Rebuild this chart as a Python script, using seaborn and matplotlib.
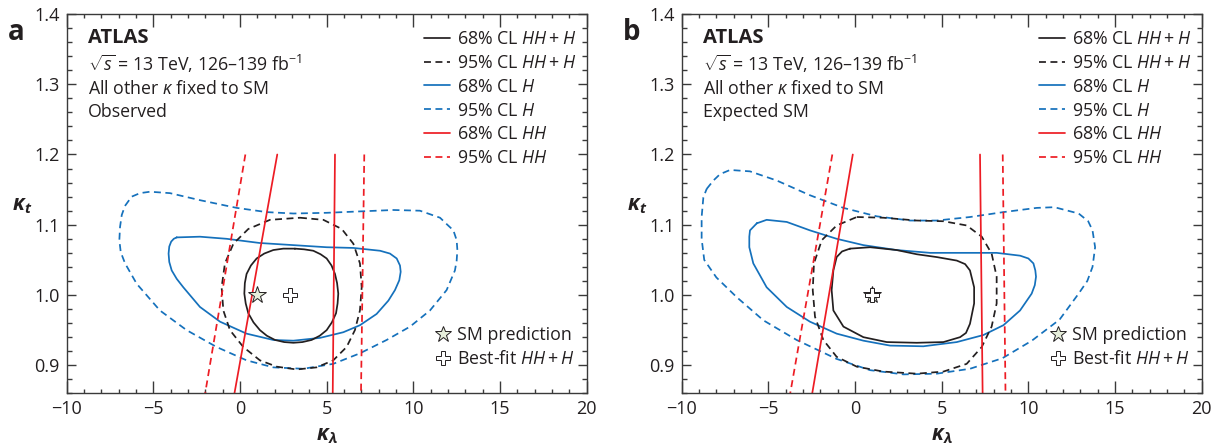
import numpy as np
import pandas as pd
import matplotlib
matplotlib.use("Agg")
import matplotlib.pyplot as plt
from matplotlib.lines import Line2D
import seaborn as sns

BLACK = "#231f20"
BLUE = "#1571bc"
RED = "#ed1c24"
STAR_FILL = "#e6eedb"

# ---- panel a: observed ----
A_HHH68_KL = [3.17, 3.7, 4.23, 4.65, 5.0, 5.28, 5.48, 5.6, 5.67, 5.63, 5.54, 5.3, 5.0, 4.6, 4.13, 3.6, 3.08, 2.55,
              2.02, 1.55, 1.15, 0.78, 0.48, 0.33, 0.25, 0.28, 0.38, 0.63, 0.96, 1.4, 1.92, 2.5]
A_HHH68_KT = [1.066, 1.065, 1.063, 1.058, 1.052, 1.042, 1.030, 1.017, 1.002, 0.988, 0.974, 0.961, 0.950, 0.942, 0.936,
              0.933, 0.932, 0.933, 0.936, 0.942, 0.950, 0.961, 0.974, 0.988, 1.002, 1.017, 1.030, 1.042, 1.052, 1.059,
              1.064, 1.066]
A_HHH95_KL = [3.46, 4.81, 5.87, 6.54, 6.92, 7.02, 6.92, 6.63, 6.15, 5.38, 4.42, 3.27, 2.12, 1.15, 0.19, -0.58, -0.96,
              -1.06, -0.87, -0.38, 0.48, 1.73]
A_HHH95_KT = [1.110, 1.107, 1.094, 1.073, 1.045, 1.011, 0.978, 0.950, 0.926, 0.907, 0.897, 0.894, 0.898, 0.907, 0.926,
              0.950, 0.978, 1.011, 1.045, 1.073, 1.094, 1.107]
A_H68_KL = [-3.65, -2.31, -0.77, 1.15, 3.08, 5.0, 6.54, 8.08, 8.65, 9.04, 9.23, 9.27, 9.19, 8.94, 8.56, 7.88, 6.92,
            5.96, 4.62, 3.08, 1.92, 0.38, -1.15, -2.31, -3.27, -3.65, -3.94, -4.08, -4.12, -4.08, -3.97, -3.82]
A_H68_KT = [1.082, 1.083, 1.080, 1.074, 1.071, 1.068, 1.067, 1.063, 1.059, 1.052, 1.042, 1.033, 1.021, 1.007, 0.992,
            0.973, 0.957, 0.947, 0.939, 0.935, 0.936, 0.945, 0.962, 0.983, 1.011, 1.023, 1.035, 1.047, 1.059, 1.069,
            1.076, 1.080]
A_H95_KL = [-6.63, -6.25, -5.77, -5.19, -4.04, -2.31, -0.19, 1.54, 3.08, 5.0, 6.92, 8.85, 10.38, 11.54, 11.92, 12.31,
            12.50, 12.54, 12.50, 12.40, 11.92, 10.96, 9.81, 8.46, 6.92, 5.38, 3.65, 1.92, 0.38, -1.35, -3.08, -4.62,
            -5.96, -6.63, -6.88, -6.96, -6.92, -6.82]
A_H95_KT = [1.127, 1.140, 1.145, 1.147, 1.145, 1.135, 1.124, 1.118, 1.116, 1.117, 1.119, 1.121, 1.120, 1.110, 1.101,
            1.092, 1.078, 1.064, 1.049, 1.035, 1.007, 0.978, 0.955, 0.936, 0.917, 0.902, 0.895, 0.897, 0.907, 0.926,
            0.950, 0.978, 1.016, 1.045, 1.061, 1.078, 1.097, 1.114]
A_HH68_LEFT = [2.15, -0.32]
A_HH68_RIGHT = [5.48, 5.35]
A_HH95_LEFT = [0.31, -2.01]
A_HH95_RIGHT = [7.17, 6.98]
A_BEST = (2.88, 1.0)

# ---- panel b: expected SM ----
B_HHH68_KL = [-0.29, 0.87, 2.40, 3.56, 4.71, 5.87, 6.35, 6.63, 6.87, 6.87, 6.63, 6.4, 6.06, 5.10, 3.56, 1.83, 0.48,
              -0.67, -1.25, -1.35, -1.25, -1.06, -0.75]
B_HHH68_KT = [1.066, 1.068, 1.064, 1.058, 1.054, 1.049, 1.044, 1.035, 1.011, 0.988, 0.959, 0.946, 0.940, 0.933, 0.932,
              0.933, 0.940, 0.955, 0.978, 1.007, 1.035, 1.054, 1.062]
B_HHH95_KL = [0.10, 1.63, 3.56, 5.10, 6.44, 7.31, 7.88, 8.17, 8.17, 7.88, 7.31, 6.44, 5.10, 3.56, 1.63, 0.10, -1.06,
              -1.83, -2.31, -2.44, -2.37, -1.92, -1.06]
B_HHH95_KT = [1.111, 1.110, 1.106, 1.105, 1.099, 1.083, 1.059, 1.026, 0.988, 0.955, 0.926, 0.902, 0.891, 0.888, 0.891,
              0.898, 0.912, 0.936, 0.969, 1.007, 1.045, 1.078, 1.099]
B_H68_KL = [-5.67, -5.10, -3.94, -2.60, -1.06, 0.48, 2.40, 4.33, 6.25, 8.17, 9.52, 10.0, 10.29, 10.40, 10.44, 10.37,
            10.19, 9.52, 8.56, 7.40, 5.87, 3.94, 2.02, 0.48, -1.06, -2.60, -3.94, -5.10, -5.87, -5.96, -6.10, -6.10,
            -6.06]
B_H68_KT = [1.102, 1.107, 1.104, 1.092, 1.080, 1.071, 1.064, 1.060, 1.060, 1.060, 1.056, 1.052, 1.045, 1.035, 1.026,
            1.014, 1.002, 0.978, 0.957, 0.943, 0.933, 0.927, 0.928, 0.935, 0.945, 0.962, 0.983, 1.011, 1.045, 1.054,
            1.068, 1.083, 1.092]
B_H95_KL = [-8.56, -8.17, -7.79, -7.21, -6.06, -4.52, -2.60, -0.67, 1.25, 3.17, 4.71, 6.63, 8.56, 10.48, 11.5, 12.9,
            13.45, 13.7, 13.85, 13.7, 13.4, 12.9, 11.8, 10.2, 8.5, 6.63, 4.71, 2.79, 0.87, -1.06, -3.37, -5.29, -6.83,
            -8.0, -8.7, -8.85, -8.85, -8.75]
B_H95_KT = [1.151, 1.163, 1.172, 1.178, 1.176, 1.163, 1.142, 1.124, 1.112, 1.106, 1.106, 1.111, 1.118, 1.124, 1.125,
            1.116, 1.105, 1.092, 1.068, 1.040, 1.020, 1.002, 0.965, 0.935, 0.910, 0.895, 0.888, 0.887, 0.893, 0.909,
            0.936, 0.964, 0.997, 1.025, 1.050, 1.080, 1.111, 1.139]
B_HH68_LEFT = [-0.13, -2.47]
B_HH68_RIGHT = [7.21, 7.36]
B_HH95_LEFT = [-1.31, -3.74]
B_HH95_RIGHT = [8.52, 8.68]
B_BEST = (1.0, 1.0)

HH_KT = [1.2, 0.86]
SM_POINT = (1.0, 1.0)

PANEL_LETTERS = ["a", "b"]
STATUS = ["Observed", "Expected SM"]
LEGEND_LABELS = [r"68% CL $HH + H$", r"95% CL $HH + H$", r"68% CL $H$",
                 r"95% CL $H$", r"68% CL $HH$", r"95% CL $HH$"]

sns.set_theme(style="ticks")
FONT = "Open Sans"
plt.rcParams["font.family"] = [FONT, "DejaVu Sans"]
plt.rcParams["mathtext.fontset"] = "custom"
plt.rcParams["mathtext.rm"] = FONT
plt.rcParams["mathtext.it"] = FONT + ":italic"
plt.rcParams["mathtext.bf"] = FONT + ":bold"
plt.rcParams["mathtext.bfit"] = FONT + ":italic:bold"
plt.rcParams["text.color"] = BLACK
plt.rcParams["axes.labelcolor"] = BLACK

DASH = (0, (4, 2.6))
LW = 1.25
FS = 12.8


def closed(kl, kt):
    return pd.DataFrame({"kl": list(kl) + [kl[0]], "kt": list(kt) + [kt[0]]})


def draw_panel(ax, contours, hh_lines, best, letter, status):
    for kl, kt, color, ls in contours:
        sns.lineplot(data=closed(kl, kt), x="kl", y="kt", sort=False, estimator=None,
                     color=color, linestyle=ls, linewidth=LW, ax=ax)
    for kl, ls in hh_lines:
        sns.lineplot(x=kl, y=HH_KT, sort=False, estimator=None, color=RED,
                     linestyle=ls, linewidth=LW, ax=ax)

    ax.plot(*SM_POINT, marker="*", markersize=13, markerfacecolor=STAR_FILL,
            markeredgecolor=BLACK, markeredgewidth=0.7, linestyle="none", zorder=5)
    ax.plot(*best, marker="P", markersize=10, markerfacecolor="white",
            markeredgecolor=BLACK, markeredgewidth=0.7, linestyle="none", zorder=6)

    ax.set_xlim(-10, 20)
    ax.set_ylim(0.86, 1.4)
    ax.set_xticks(np.arange(-10, 21, 5))
    ax.set_xticks(np.arange(-10, 21, 1), minor=True)
    ax.set_yticks(np.arange(0.9, 1.41, 0.1))
    ax.set_yticks(np.arange(0.86, 1.401, 0.02), minor=True)
    ax.set_yticklabels([f"{v:.1f}" for v in np.arange(0.9, 1.41, 0.1)])
    ax.tick_params(which="both", direction="in", top=True, right=True,
                   color="#3a3a3a", width=1.0, labelsize=13, labelcolor=BLACK)
    ax.tick_params(axis="x", which="major", length=9, pad=5)
    ax.tick_params(axis="x", which="minor", length=3)
    ax.tick_params(axis="y", which="major", length=6.7, pad=5)
    ax.tick_params(axis="y", which="minor", length=3.6)
    for sp in ax.spines.values():
        sp.set_linewidth(1.0)
        sp.set_color("#3a3a3a")

    ax.set_xlabel(r"$\mathbfit{\kappa_\lambda}$", fontsize=15, labelpad=5)
    ax.set_ylabel(r"$\mathbfit{\kappa_t}$", fontsize=15, rotation=0, ha="center", va="center")
    ax.yaxis.set_label_coords(-0.086, 0.496)

    tr = ax.transAxes
    ax.text(0.041, 0.9235, "ATLAS", fontsize=14.5, fontweight="bold", transform=tr, va="baseline")
    ax.text(0.041, 0.850, r"$\sqrt{s}$ = 13 TeV, 126–139 fb$^{-1}$", fontsize=FS, transform=tr, va="baseline")
    ax.text(0.041, 0.789, r"All other $\kappa$ fixed to SM", fontsize=FS, transform=tr, va="baseline")
    ax.text(0.041, 0.728, status, fontsize=FS, transform=tr, va="baseline")
    ax.text(-0.113, 0.95, letter, fontsize=20, fontweight="bold", transform=tr, va="center")

    styles = [(BLACK, "-"), (BLACK, DASH), (BLUE, "-"), (BLUE, DASH), (RED, "-"), (RED, DASH)]
    handles = [Line2D([0], [0], color=c, linestyle=s, linewidth=LW) for c, s in styles]
    leg1 = ax.legend(handles, LEGEND_LABELS, loc="upper left", bbox_to_anchor=(0.687, 0.958),
                     frameon=False, fontsize=FS, handlelength=1.46, handletextpad=0.4,
                     labelspacing=0.33, borderpad=0, borderaxespad=0)
    ax.add_artist(leg1)
    mk = [Line2D([0], [0], marker="*", markersize=12, markerfacecolor=STAR_FILL,
                 markeredgecolor=BLACK, markeredgewidth=0.7, linestyle="none"),
          Line2D([0], [0], marker="P", markersize=9.5, markerfacecolor="white",
                 markeredgecolor=BLACK, markeredgewidth=0.7, linestyle="none")]
    ax.legend(mk, ["SM prediction", r"Best-fit $HH + H$"], loc="upper left",
              bbox_to_anchor=(0.706, 0.177), frameon=False, fontsize=FS,
              handlelength=1.0, handletextpad=0.3, labelspacing=0.33,
              borderpad=0, borderaxespad=0)


fig = plt.figure(figsize=(12.23, 4.47), dpi=100)
ax_a = fig.add_axes([0.0545, 0.120, 0.4252, 0.8487])
ax_b = fig.add_axes([0.5574, 0.120, 0.4252, 0.8487])

draw_panel(ax_a,
           [(A_H95_KL, A_H95_KT, BLUE, DASH), (A_H68_KL, A_H68_KT, BLUE, "-"),
            (A_HHH95_KL, A_HHH95_KT, BLACK, DASH), (A_HHH68_KL, A_HHH68_KT, BLACK, "-")],
           [(A_HH68_LEFT, "-"), (A_HH68_RIGHT, "-"), (A_HH95_LEFT, DASH), (A_HH95_RIGHT, DASH)],
           A_BEST, PANEL_LETTERS[0], STATUS[0])
draw_panel(ax_b,
           [(B_H95_KL, B_H95_KT, BLUE, DASH), (B_H68_KL, B_H68_KT, BLUE, "-"),
            (B_HHH95_KL, B_HHH95_KT, BLACK, DASH), (B_HHH68_KL, B_HHH68_KT, BLACK, "-")],
           [(B_HH68_LEFT, "-"), (B_HH68_RIGHT, "-"), (B_HH95_LEFT, DASH), (B_HH95_RIGHT, DASH)],
           B_BEST, PANEL_LETTERS[1], STATUS[1])

fig.savefig("out.png", dpi=100)
